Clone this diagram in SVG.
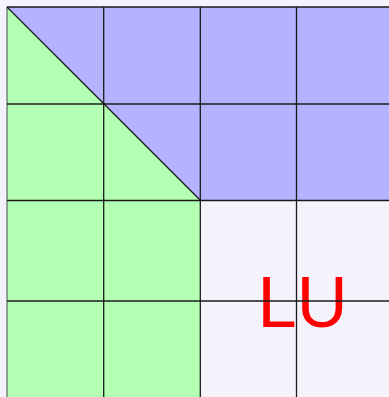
<svg xmlns="http://www.w3.org/2000/svg" width="389" height="397" viewBox="0 0 389 397">
<style>
.grid{stroke:#1a1a1a;stroke-width:1.3;fill:none}
.lbl{font-family:"Liberation Sans",Arial,sans-serif;font-size:72px;fill:#ff0000}
</style>
<rect id="background" x="0" y="0" width="389" height="397" fill="#f4f3fc"/>
<g id="lower-region">
<polygon points="7,7 200.3,200.3 200.3,397 7,397" fill="#b3ffb3"/>
</g>
<g id="upper-region">
<polygon points="7,7 389,7 389,200.3 200.3,200.3" fill="#b3b3ff"/>
</g>
<g id="lu-region">
<rect x="200.3" y="200.3" width="188.7" height="196.7" fill="#f4f3fc"/>
<text class="lbl" x="257.5" y="326.7" textLength="90" lengthAdjust="spacingAndGlyphs">LU</text>
</g>
<g id="connectors">
<line class="grid" x1="7" y1="7" x2="7" y2="397" stroke-opacity="0.6"/>
<line class="grid" x1="103.7" y1="7" x2="103.7" y2="397"/>
<line class="grid" x1="200.3" y1="7" x2="200.3" y2="397"/>
<line class="grid" x1="296.5" y1="7" x2="296.5" y2="397"/>
<line class="grid" x1="7" y1="7" x2="389" y2="7"/>
<line class="grid" x1="7" y1="104" x2="389" y2="104"/>
<line class="grid" x1="7" y1="200.5" x2="389" y2="200.5"/>
<line class="grid" x1="7" y1="301" x2="389" y2="301"/>
<line class="grid" x1="7" y1="7" x2="200.3" y2="200.3"/>
</g>
</svg>
